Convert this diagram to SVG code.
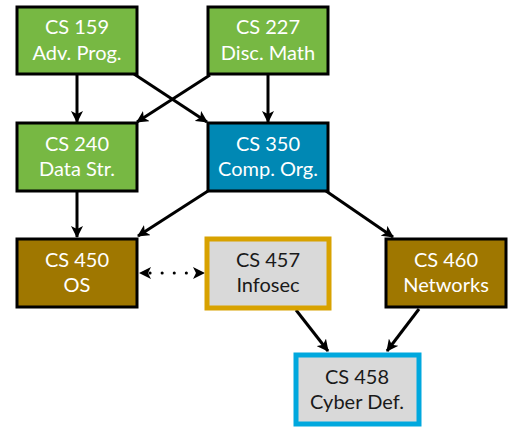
<svg xmlns="http://www.w3.org/2000/svg" width="511" height="428" viewBox="0 0 511 428">
<defs>
<marker id="ah" viewBox="0 0 12 12" refX="11" refY="6" markerWidth="12" markerHeight="12" markerUnits="userSpaceOnUse" orient="auto-start-reverse">
<path d="M0,0 L12,6 L0,12 L3,6 Z" fill="#000"/>
</marker>
<style>
.box{stroke:#000;stroke-width:3}
.g{fill:#77b843}
.b{fill:#0088b4}
.br{fill:#9f7700}
.gr{fill:#d9d9d9;stroke-width:5}
.t{font-family:"Lato","Open Sans",sans-serif;font-size:20px;text-anchor:middle}
.w{fill:#fff}
.d{fill:#1a1a1a}
.c{stroke:#000;stroke-width:3;fill:none;marker-end:url(#ah)}
</style>
</defs>
<g id="connectors">
<line class="c" x1="77" y1="74" x2="77" y2="122"/>
<line class="c" x1="268" y1="74" x2="268" y2="122"/>
<line class="c" x1="134" y1="74" x2="207" y2="122"/>
<line class="c" x1="210" y1="75" x2="137" y2="122"/>
<line class="c" x1="77" y1="192" x2="77" y2="237"/>
<line class="c" x1="208" y1="191" x2="138" y2="236"/>
<line class="c" x1="326" y1="191" x2="393" y2="237"/>
<line class="c" x1="296" y1="310" x2="328" y2="351"/>
<line class="c" x1="419" y1="309" x2="387" y2="351"/>
<line x1="150" y1="273" x2="195" y2="273" stroke="#000" stroke-width="3" stroke-dasharray="0.1 12" stroke-linecap="round"/>
<line x1="150" y1="273" x2="140" y2="273" stroke="#000" stroke-width="0.1" marker-end="url(#ah)"/>
<line x1="195" y1="273" x2="204" y2="273" stroke="#000" stroke-width="0.1" marker-end="url(#ah)"/>
</g>
<g id="cs159">
<rect class="box g" x="17" y="7" width="120" height="67"/>
<text class="t w" x="77" y="34">CS 159</text>
<text class="t w" x="77" y="60">Adv. Prog.</text>
</g>
<g id="cs227">
<rect class="box g" x="208" y="7" width="120" height="67"/>
<text class="t w" x="268" y="34">CS 227</text>
<text class="t w" x="268" y="60">Disc. Math</text>
</g>
<g id="cs240">
<rect class="box g" x="17" y="123" width="120" height="68"/>
<text class="t w" x="77" y="151">CS 240</text>
<text class="t w" x="77" y="176">Data Str.</text>
</g>
<g id="cs350">
<rect class="box b" x="208" y="123" width="120" height="68"/>
<text class="t w" x="268" y="151">CS 350</text>
<text class="t w" x="268" y="176">Comp. Org.</text>
</g>
<g id="cs450">
<rect class="box br" x="17" y="239" width="120" height="68"/>
<text class="t w" x="77" y="267">CS 450</text>
<text class="t w" x="77" y="292">OS</text>
</g>
<g id="cs457">
<rect class="box gr" x="207" y="239" width="122" height="69" style="stroke:#d8a200"/>
<text class="t d" x="268" y="267">CS 457</text>
<text class="t d" x="268" y="292">Infosec</text>
</g>
<g id="cs460">
<rect class="box br" x="386" y="239" width="120" height="68"/>
<text class="t w" x="446" y="267">CS 460</text>
<text class="t w" x="446" y="292">Networks</text>
</g>
<g id="cs458">
<rect class="box gr" x="296" y="355" width="123" height="69" style="stroke:#00a8de"/>
<text class="t d" x="357" y="384">CS 458</text>
<text class="t d" x="357" y="409">Cyber Def.</text>
</g>
</svg>
